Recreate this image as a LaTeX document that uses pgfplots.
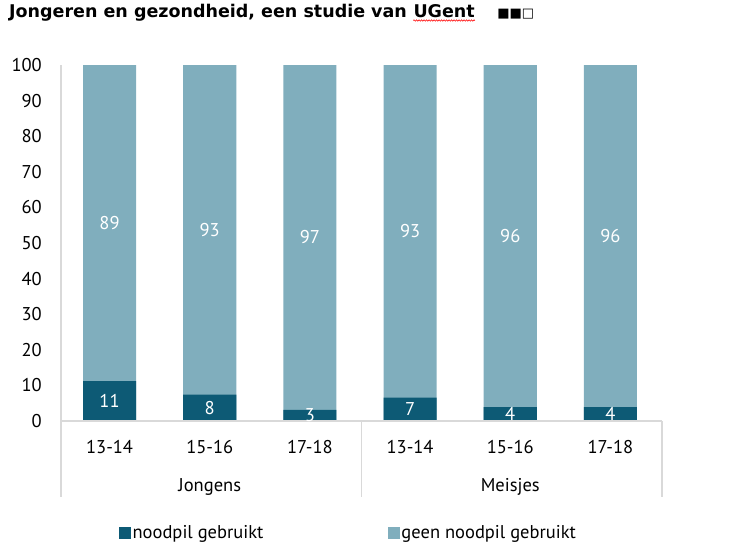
\documentclass[border=0pt]{standalone}
\usepackage{pgfplots}
\pgfplotsset{compat=1.18}
\usepackage{pgfplotstable}
\usepackage{fontspec}
\setmainfont{PT Sans}
\newfontfamily\titlefont{DejaVu Sans}
\usetikzlibrary{decorations.pathmorphing}
\definecolor{dark}{HTML}{0D5A75}
\definecolor{light}{HTML}{80AEBD}
\definecolor{axgray}{HTML}{D9D9D9}
\newcommand\lbl{\fontsize{18.5bp}{22bp}\selectfont}
\pgfplotstableread{
x d l dl ll
0 11.2 88.8 11 89
1 7.4 92.6 8 93
2 3.1 96.9 3 97
3 6.6 93.4 7 93
4 3.9 96.1 4 96
5 3.9 96.1 4 96
}\data
\begin{document}
\begin{tikzpicture}
\path[use as bounding box] (0,0) rectangle (743bp,-559bp);
\node[anchor=base west, inner sep=0, font={\titlefont\fontsize{17.5bp}{20bp}\selectfont\bfseries}] at (9bp,-17bp)
 {Jongeren en gezondheid, een studie van \tikz[baseline=(u.base)]{\node[inner sep=0](u){UGent};\draw[red, line width=0.6bp, decorate, decoration={snake, amplitude=0.7bp, segment length=2.5bp}] ([yshift=-3.5bp]u.base west) -- ([yshift=-3.5bp]u.base east);}\hspace{22bp}{\fontsize{13bp}{13bp}\selectfont\mdseries ■■□}};
\begin{axis}[
  at={(61bp,-421bp)}, anchor=south west, scale only axis,
  width=601bp, height=356bp,
  xmin=-0.485, xmax=5.515, ymin=0, ymax=100,
  clip=false,
  axis line style={draw=none}, tick style={draw=none},
  xtick={0,...,5}, xticklabels={13-14,15-16,17-18,13-14,15-16,17-18},
  ytick={0,10,...,100},
  bar width=0.53,
  /pgf/number format/assume math mode=true,
  ticklabel style={font=\lbl},
  yticklabel style={anchor=east, inner sep=0, xshift=-19bp},
  xticklabel style={anchor=center, inner sep=0, yshift=-26bp},
  reverse legend,
  legend style={at={(0.478,-0.315)}, anchor=center, draw=none, fill=none,
    legend columns=2, font=\lbl, nodes={inner sep=1.5bp},
    /tikz/every even column/.append style={column sep=123bp}},
  legend cell align=left,
  sq legend/.style={legend image code/.code={\fill[##1] (0bp,-6bp) rectangle (12bp,6bp);}},
]
\addplot[ybar, bar shift=0pt, fill=light, draw=none, sq legend] table[x=x, y expr=\thisrow{d}+\thisrow{l}] {\data};
\addlegendentry{geen noodpil gebruikt}
\addplot[ybar, bar shift=0pt, fill=dark, draw=none, sq legend] table[x=x, y=d] {\data};
\addlegendentry{noodpil gebruikt}
\addplot[forget plot, draw=none, mark=none, nodes near coords, point meta=explicit symbolic,
  every node near coord/.append style={anchor=center, text=white, font=\lbl, inner sep=0}]
  table[x=x, y expr=\thisrow{d}/2, meta=dl] {\data};
\addplot[forget plot, draw=none, mark=none, nodes near coords, point meta=explicit symbolic,
  every node near coord/.append style={anchor=center, text=white, font=\lbl, inner sep=0}]
  table[x=x, y expr=\thisrow{d}+\thisrow{l}/2, meta=ll] {\data};
\draw[axgray, line width=1.5bp] (axis cs:-0.485,100) -- (axis cs:-0.485,0) -- ++(0bp,-76bp);
\draw[axgray, line width=1.5bp] (axis cs:-0.485,0) -- (axis cs:5.515,0);
\draw[axgray, line width=1.5bp] (axis cs:2.515,0) -- ++(0bp,-76bp);
\draw[axgray, line width=1.5bp] (axis cs:5.515,0) -- ++(0bp,-76bp);
\node[font=\lbl] at ([yshift=-66bp]axis cs:1,0) {Jongens};
\node[font=\lbl] at ([yshift=-66bp]axis cs:4,0) {Meisjes};
\end{axis}
\end{tikzpicture}
\end{document}
